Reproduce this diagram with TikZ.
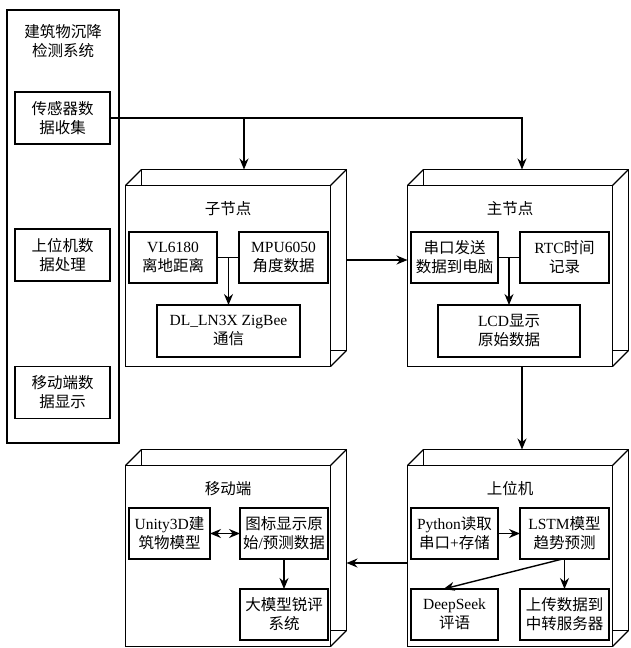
\documentclass[tikz,border=0pt]{standalone}
\usepackage{fontspec}
\setmainfont{Liberation Serif}
\newfontfamily\cjkfont{Noto Sans CJK SC}
\newcommand{\zw}[1]{{\cjkfont #1}}
\usetikzlibrary{arrows.meta,positioning}

\begin{document}
\begin{tikzpicture}[
  x=1pt, y=-1pt,
  line width=1.2pt,
  every node/.style={font=\fontsize{15.5}{19}\selectfont},
  outline/.style={draw, inner sep=0pt, outer sep=0pt},
  cubeface/.style={outline, minimum width=205pt, minimum height=181pt},
  innerbox/.style={outline, align=center, minimum height=51pt, inner sep=1pt},
  sidebox/.style={innerbox, minimum width=95pt, minimum height=52pt},
  heading/.style={align=center},
  arr/.style={-{Stealth[length=11pt,width=9pt]}, line width=1.4pt},
  darr/.style={{Stealth[length=11pt,width=9pt]}-{Stealth[length=11pt,width=9pt]}, line width=1.4pt},
  joint/.style={line width=1.4pt},
]
\useasboundingbox (0,0) rectangle (630,648);

% System column
\node[outline, minimum width=112pt, minimum height=433pt] (sys) at (63,226.5) {};
\node[heading] (systitle) at (63,41) {\zw{建筑物沉降}\\\zw{检测系统}};
\node[sidebox] (sens) at (62.5,118) {\zw{传感器数}\\\zw{据收集}};
\node[sidebox] (pcproc) at (62.5,255) {\zw{上位机数}\\\zw{据处理}};
\node[sidebox] (mobdisp) at (62.5,392.5) {\zw{移动端数}\\\zw{据显示}};

% Sub node
\node[cubeface] (zjb) at (244,260) {};
\node[cubeface, fill=white] (zj) at (228,276) {};
\draw (zj.north west) -- (zjb.north west) (zj.north east) -- (zjb.north east)
      (zj.south east) -- (zjb.south east);
\node[heading] (zjt) at ([yshift=-23pt]zj.north) {\zw{子节点}};
\node[innerbox, minimum width=88pt] (vl) at (173,257.5) {VL6180\\\zw{离地距离}};
\node[innerbox, minimum width=89pt] (mpu) at (283.5,257.5) {MPU6050\\\zw{角度数据}};
\node[innerbox, minimum width=143pt, minimum height=52pt] (dl) at (228.5,331) {DL\_LN3X ZigBee\\\zw{通信}};

% Main node
\node[cubeface] (zhb) at (526,260) {};
\node[cubeface, fill=white] (zh) at (510,276) {};
\draw (zh.north west) -- (zhb.north west) (zh.north east) -- (zhb.north east)
      (zh.south east) -- (zhb.south east);
\node[heading] (zht) at ([yshift=-23pt]zh.north) {\zw{主节点}};
\node[innerbox, minimum width=87pt] (uart) at (454.5,257.5) {\zw{串口发送}\\\zw{数据到电脑}};
\node[innerbox, minimum width=89pt] (rtc) at (564.5,257.5) {RTC\zw{时间}\\\zw{记录}};
\node[innerbox, minimum width=142pt, minimum height=52pt] (lcd) at (509,331) {LCD\zw{显示}\\\zw{原始数据}};

% Host computer
\node[cubeface] (sjb) at (526,540) {};
\node[cubeface, fill=white] (sj) at (510,556) {};
\draw (sj.north west) -- (sjb.north west) (sj.north east) -- (sjb.north east)
      (sj.south east) -- (sjb.south east);
\node[heading] (sjt) at ([yshift=-23pt]sj.north) {\zw{上位机}};
\node[innerbox, minimum width=87pt] (py) at (454.5,533.5) {Python\zw{读取}\\\zw{串口}+\zw{存储}};
\node[innerbox, minimum width=89pt] (lstm) at (564.5,533.5) {LSTM\zw{模型}\\\zw{趋势预测}};
\node[innerbox, minimum width=87pt] (ds) at (454.5,614.5) {DeepSeek\\\zw{评语}};
\node[innerbox, minimum width=89pt] (upl) at (564.5,614.5) {\zw{上传数据到}\\\zw{中转服务器}};

% Mobile side
\node[cubeface] (ydb) at (244,540) {};
\node[cubeface, fill=white] (yd) at (228,556) {};
\draw (yd.north west) -- (ydb.north west) (yd.north east) -- (ydb.north east)
      (yd.south east) -- (ydb.south east);
\node[heading] (ydt) at ([yshift=-23pt]yd.north) {\zw{移动端}};
\node[innerbox, minimum width=81pt] (unity) at (169.5,533.5) {Unity3D\zw{建}\\\zw{筑物模型}};
\node[innerbox, minimum width=88pt] (chart) at (284,533.5) {\zw{图标显示原}\\\zw{始}/\zw{预测数据}};
\node[innerbox, minimum width=88pt] (llm) at (284,614.5) {\zw{大模型锐评}\\\zw{系统}};

% Arrows
\draw[arr] (sens.east) -| (zjb.north);
\draw[arr] (sens.east) -| ([xshift=-4pt]zhb.north);
\draw[arr] (zjb.east) -- (zjb.east -| zh.west);
\draw[arr] ([xshift=12pt]zh.south) -- ([xshift=12pt]zh.south |- sjb.north);
\draw[arr] ([yshift=-7pt]sj.west) -- ([yshift=-7pt]sj.west -| ydb.east);

\draw[joint] (vl.east) -- (mpu.west);
\draw[arr] (vl.east -| dl.north) -- (dl.north);
\draw[joint] (uart.east) -- (rtc.west);
\draw[arr] (uart.east -| lcd.north) -- (lcd.north);
\draw[arr] (py.east) -- (lstm.west);
\draw[arr] (lstm.south) -- (upl.north);
\draw[arr] ([xshift=-2pt]lstm.south) -- ([xshift=-11pt]ds.north);
\draw[darr] (unity.east) -- (chart.west);
\draw[arr] (chart.south) -- (llm.north);

\end{tikzpicture}
\end{document}
